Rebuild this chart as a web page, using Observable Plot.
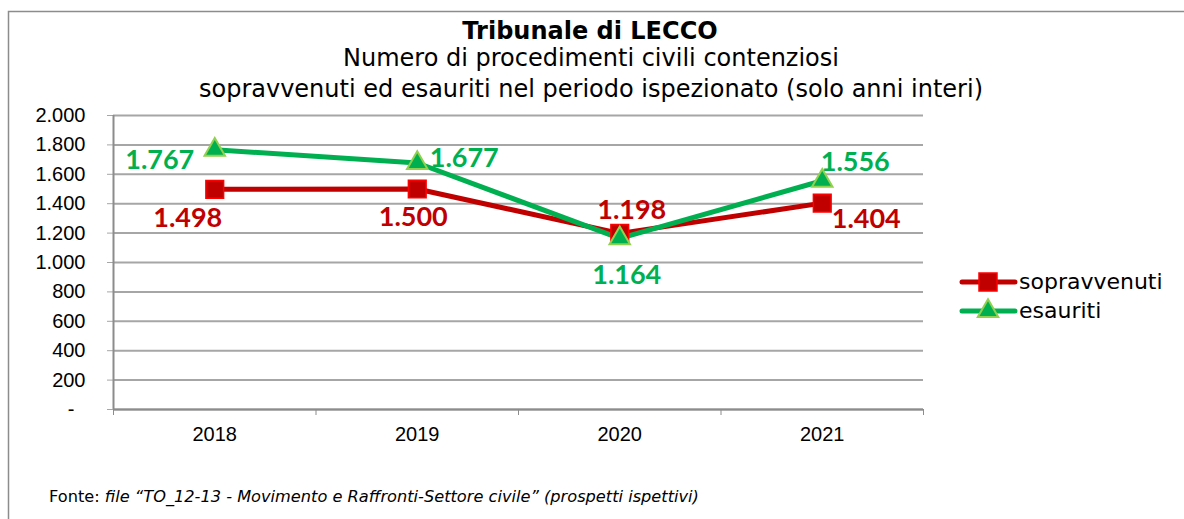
<!DOCTYPE html>
<html><head><meta charset="utf-8">
<script src="https://cdn.jsdelivr.net/npm/d3@7"></script>
<script src="https://cdn.jsdelivr.net/npm/@observablehq/plot@0.6"></script>
<style>body{margin:0;background:#fff;} #chart svg{display:block;}</style>
</head><body><div id="chart"></div>
<script>
// ---- data ----
const years = ["2018", "2019", "2020", "2021"];
const sopravvenuti = [1498, 1500, 1198, 1404];
const esauriti = [1767, 1677, 1164, 1556];
const yTicks = [0, 200, 400, 600, 800, 1000, 1200, 1400, 1600, 1800, 2000];
const seriesNames = ["sopravvenuti", "esauriti"];
const titleText = "Tribunale di LECCO";
const subtitleLines = ["Numero di procedimenti civili contenziosi", "sopravvenuti ed esauriti nel periodo ispezionato (solo anni interi)"];
const sourceLabel = "Fonte: ";
const sourceText = "file \u201CTO_12-13 - Movimento e Raffronti-Settore civile\u201D (prospetti ispettivi)";

// ---- styles ----
const RED = "#C00000", RED_EDGE = "#FF0000", GREEN = "#00B050", GREEN_EDGE = "#92D050";
const GRID = "#a6a6a6";
// label offsets (px) per series per year
const labelOffsets = {
  sopravvenuti: [[-27, 29], [-4, 28], [12, -23], [44, 16]],
  esauriti: [[-55, 11], [47, -5], [7, 37], [33, -18]]
};

const itFmt = d3.formatLocale({decimal: ",", thousands: ".", grouping: [3], currency: ["€", ""]}).format(",d");
const yFmt = d => d === 0 ? "-\u00A0\u00A0" : itFmt(d);

const rows = years.flatMap((y, i) => [
  {i, year: y, series: "sopravvenuti", value: sopravvenuti[i]},
  {i, year: y, series: "esauriti", value: esauriti[i]}
]);
const sop = rows.filter(d => d.series === "sopravvenuti");
const esa = rows.filter(d => d.series === "esauriti");
const idx = years.map((_, i) => i);
const bounds = [-0.5, ...idx.map(i => i + 0.5)];

const labelMarks = rows.map(d => {
  const [dx, dy] = labelOffsets[d.series][d.i];
  return Plot.text([d], {
    x: "i", y: "value", text: r => itFmt(r.value), dx, dy,
    fill: d.series === "sopravvenuti" ? RED : GREEN,
    fontSize: 27, fontWeight: "bold", fontFamily: "Lato"
  });
});

const svg = Plot.plot({
  width: 1184, height: 519,
  marginLeft: 113, marginRight: 261, marginTop: 115, marginBottom: 110,
  style: {fontFamily: "Liberation Sans, Arial, sans-serif", fontSize: "20px", color: "black", background: "white", overflow: "visible"},
  x: {type: "linear", domain: [-0.5, 3.5]},
  y: {domain: [0, 2000]},
  marks: [
    Plot.gridY(yTicks, {stroke: GRID, strokeOpacity: 1, strokeWidth: 2}),
    Plot.axisY(yTicks, {tickSize: 6, tickPadding: 22, tickFormat: yFmt, stroke: GRID, fill: "black", fontSize: 20, label: null}),
    Plot.axisX(bounds, {tickSize: 6, tickFormat: () => "", stroke: "#8c8c8c", label: null}),
    Plot.axisX(idx, {tickSize: 0, tickPadding: 17, tickFormat: i => years[i], fill: "black", fontSize: 20, label: null}),
    Plot.ruleX([-0.5], {stroke: "#8c8c8c", strokeWidth: 2}),
    Plot.ruleY([0], {stroke: "#8c8c8c", strokeWidth: 2}),
    Plot.line(sop, {x: "i", y: "value", stroke: RED, strokeWidth: 5}),
    Plot.line(esa, {x: "i", y: "value", stroke: GREEN, strokeWidth: 5}),
    Plot.dot(sop, {x: "i", y: "value", symbol: "square", r: 10, fill: RED, stroke: RED_EDGE, strokeWidth: 1.5}),
    Plot.dot(esa, {x: "i", y: "value", symbol: "triangle", r: 7.6, fill: GREEN, stroke: GREEN_EDGE, strokeWidth: 2}),
    ...labelMarks
  ]
});

const s = d3.select(svg);
// outer frame
s.append("path").attr("d", "M1184,11.5H8.5V519").attr("fill", "none").attr("stroke", "#8c8c8c").attr("stroke-width", 1.5);
// titles
const titleG = s.append("g").attr("text-anchor", "middle").attr("font-family", "DejaVu Sans, Verdana, sans-serif").attr("fill", "black");
titleG.append("text").attr("x", 590).attr("y", 39).attr("font-size", 24).attr("font-weight", "bold").text(titleText);
subtitleLines.forEach((t, k) => titleG.append("text").attr("x", 591).attr("y", 66 + k * 31).attr("font-size", 24).text(t));
// legend
const legendColors = {sopravvenuti: [RED, RED_EDGE], esauriti: [GREEN, GREEN_EDGE]};
seriesNames.forEach((name, k) => {
  const g = s.append("g").attr("transform", `translate(0,${282 + k * 29})`);
  const [c, e] = legendColors[name];
  g.append("line").attr("x1", 962).attr("x2", 1015).attr("y1", 0).attr("y2", 0).attr("stroke", c).attr("stroke-width", 5).attr("stroke-linecap", "round");
  if (k === 0) g.append("rect").attr("x", 979).attr("y", -9).attr("width", 18).attr("height", 18).attr("fill", c).attr("stroke", e).attr("stroke-width", 1.5);
  else g.append("path").attr("d", d3.symbol(d3.symbolTriangle, Math.PI * 7.6 * 7.6)()).attr("transform", "translate(988,0)").attr("fill", c).attr("stroke", e).attr("stroke-width", 2);
  g.append("text").attr("x", 1019).attr("y", 7).attr("text-anchor", "start").attr("font-family", "DejaVu Sans, Verdana, sans-serif").attr("font-size", 22).attr("fill", "black").text(name);
});
// source
const src = s.append("text").attr("x", 49).attr("y", 502).attr("text-anchor", "start").attr("font-family", "DejaVu Sans, Verdana, sans-serif").attr("font-size", 16.2).attr("fill", "black");
src.append("tspan").text(sourceLabel);
src.append("tspan").attr("font-style", "italic").text(sourceText);

document.getElementById("chart").appendChild(svg);
</script>
</body></html>
